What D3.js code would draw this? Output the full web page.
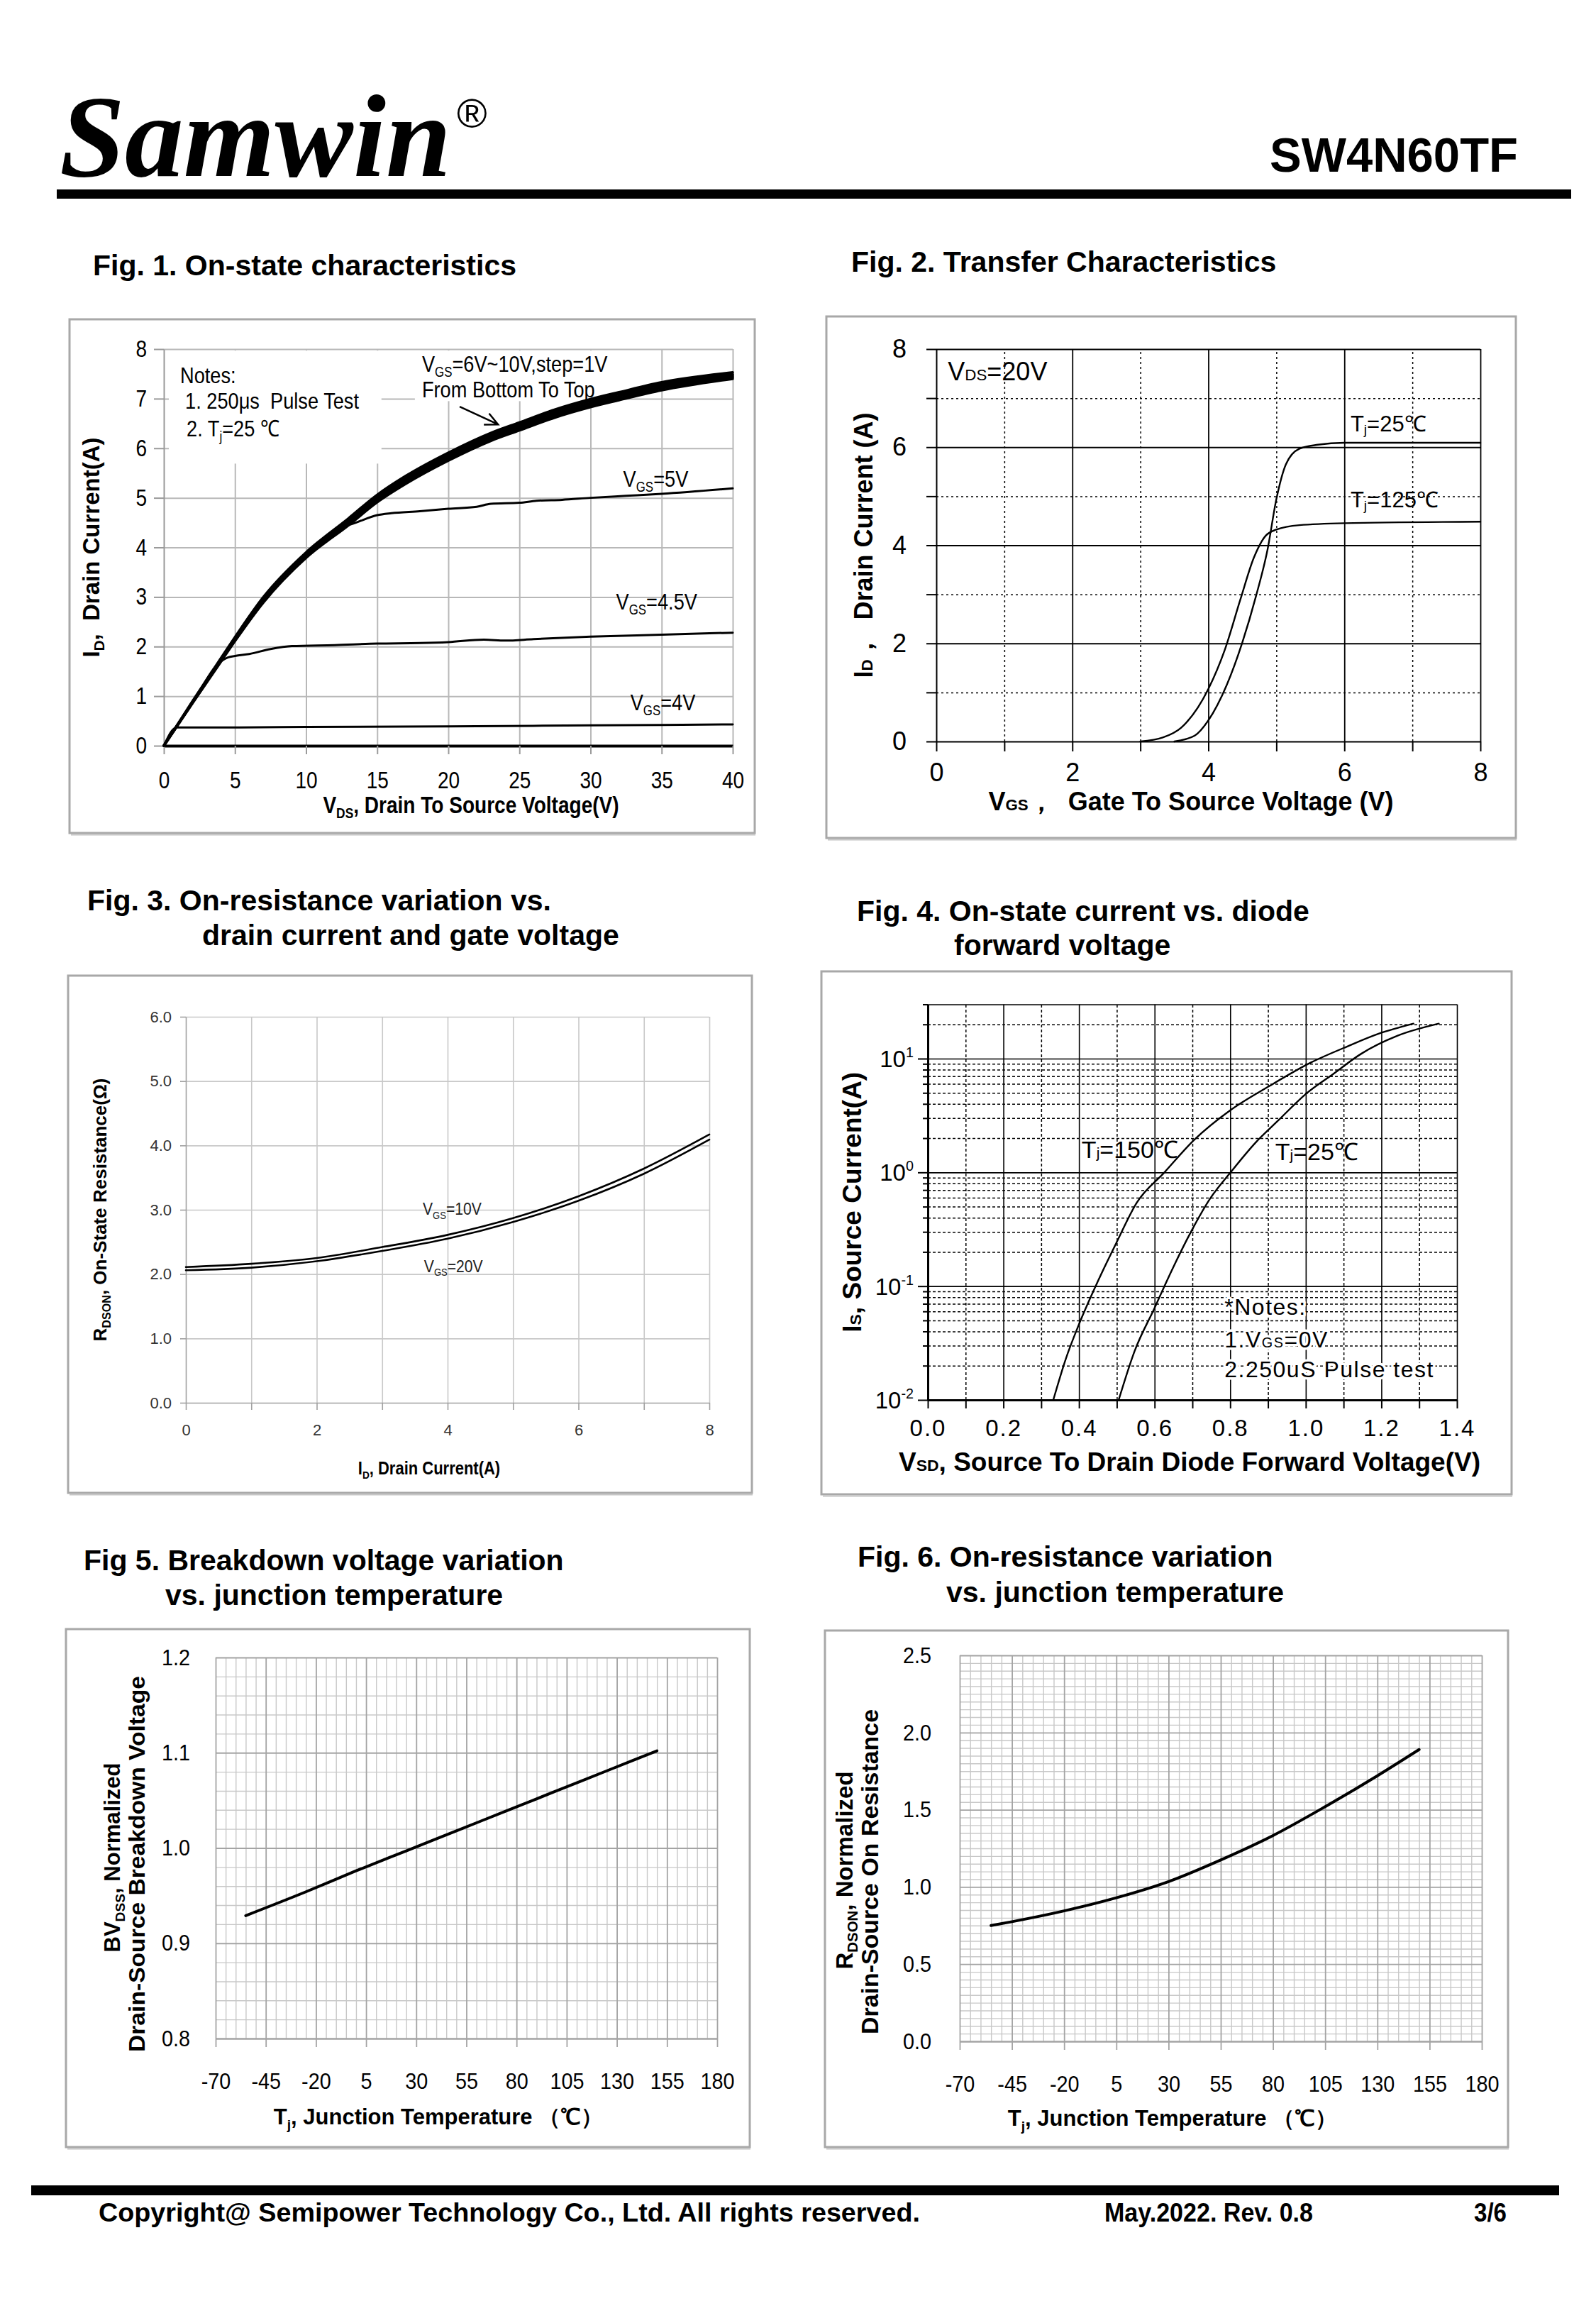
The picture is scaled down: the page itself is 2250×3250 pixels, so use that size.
<!DOCTYPE html>
<html>
<head>
<meta charset="utf-8">
<script src="https://cdn.jsdelivr.net/npm/d3@7/dist/d3.min.js"></script>
<style>
  body { margin: 0; background: #fff; }
  svg { display: block; }
  text { white-space: pre; }
</style>
</head>
<body>
<svg id="page"></svg>
<script>
// ---------- Fig 1: on-state characteristics ----------
const fig1VdsBundle = [0, 2, 4, 5, 7, 10, 13, 15, 17, 20, 23, 25, 27.5, 30, 32, 35, 40];
const fig1Id10V = [0, 0.89, 1.76, 2.19, 3.00, 3.90, 4.59, 5.06, 5.44, 5.91, 6.31, 6.52, 6.78, 6.99, 7.13, 7.33, 7.53];
const fig1Id9V  = [0, 0.88, 1.74, 2.17, 2.97, 3.87, 4.55, 5.02, 5.40, 5.87, 6.27, 6.48, 6.74, 6.95, 7.09, 7.29, 7.49];
const fig1Id8V  = [0, 0.87, 1.73, 2.15, 2.95, 3.85, 4.52, 4.99, 5.36, 5.83, 6.23, 6.44, 6.70, 6.91, 7.05, 7.25, 7.46];
const fig1Id7V  = [0, 0.86, 1.71, 2.13, 2.92, 3.82, 4.49, 4.95, 5.32, 5.79, 6.19, 6.40, 6.66, 6.87, 7.01, 7.21, 7.43];
const fig1Id6V  = [0, 0.85, 1.69, 2.11, 2.89, 3.79, 4.45, 4.91, 5.28, 5.75, 6.15, 6.36, 6.62, 6.83, 6.97, 7.17, 7.40];
const fig1Vds5V = [0, 2, 4, 5, 7, 10, 12.5, 13.5, 15, 16, 18, 20, 22, 23, 25, 26.2, 28, 30, 32.5, 35, 40];
const fig1Id5V  = [0, 0.87, 1.72, 2.14, 2.94, 3.84, 4.40, 4.50, 4.65, 4.69, 4.73, 4.78, 4.82, 4.88, 4.90, 4.94, 4.96, 5.00, 5.04, 5.08, 5.19];
const fig1Vds45V = [0, 2, 4, 4.5, 5, 6, 7.5, 9, 12, 15, 18, 20, 22.5, 24, 26, 30, 35, 40];
const fig1Id45V  = [0, 0.86, 1.70, 1.78, 1.81, 1.85, 1.95, 2.01, 2.03, 2.06, 2.07, 2.09, 2.14, 2.12, 2.15, 2.20, 2.24, 2.28];
const fig1Vds4V = [0, 0.9, 2, 5, 10, 20, 30, 40];
const fig1Id4V  = [0, 0.37, 0.37, 0.37, 0.38, 0.39, 0.41, 0.43];

// ---------- Fig 2: transfer characteristics ----------
const fig2Vgs25  = [3.5, 3.8, 4.0, 4.27, 4.5, 4.7, 4.87, 5.0, 5.14, 5.34, 5.61, 6.0, 8.0];
const fig2Id25   = [0, 0.12, 0.43, 1.15, 2.02, 2.96, 3.91, 4.94, 5.65, 5.97, 6.05, 6.09, 6.09];
const fig2Vgs125 = [3.0, 3.33, 3.6, 4.0, 4.24, 4.47, 4.67, 4.84, 5.0, 5.34, 6.0, 8.0];
const fig2Id125  = [0, 0.08, 0.28, 1.07, 1.86, 2.89, 3.75, 4.19, 4.32, 4.41, 4.45, 4.48];

// ---------- Fig 3: on-resistance vs drain current ----------
const fig3Id     = [0, 1, 2, 3, 4, 5, 6, 7, 8];
const fig3Rds10V = [2.11, 2.16, 2.25, 2.42, 2.61, 2.87, 3.21, 3.64, 4.17];
const fig3Rds20V = [2.06, 2.10, 2.20, 2.36, 2.55, 2.81, 3.14, 3.56, 4.09];

// ---------- Fig 4: body diode forward voltage ----------
const fig4Vsd150 = [0.332, 0.365, 0.399, 0.444, 0.499, 0.553, 0.626, 0.704, 0.801, 0.904, 1.013, 1.11, 1.194, 1.285];
const fig4Is150  = [0.01, 0.0229, 0.0454, 0.1, 0.241, 0.543, 1.0, 1.92, 3.53, 5.75, 9.22, 12.8, 16.6, 20.3];
const fig4Vsd25  = [0.505, 0.547, 0.601, 0.626, 0.698, 0.747, 0.801, 0.868, 0.928, 1.0, 1.073, 1.146, 1.243, 1.352];
const fig4Is25   = [0.01, 0.0268, 0.0655, 0.1, 0.308, 0.589, 1.0, 1.84, 2.88, 4.89, 7.35, 11.0, 15.9, 20.3];
const fig4XLabels = [0, 0.2, 0.4, 0.6, 0.8, 1.0, 1.2, 1.4];
const fig4Decades = [0.01, 0.1, 1, 10];
const fig4Exponents = ["-2", "-1", "0", "1"];

// ---------- Fig 5 / Fig 6: vs junction temperature ----------
const tjLabels = [-70, -45, -20, 5, 30, 55, 80, 105, 130, 155, 180];
const fig5Tj   = [-55, -25, 0, 25, 50, 75, 100, 125, 150];
const fig5Bv   = [0.929, 0.954, 0.976, 0.997, 1.018, 1.039, 1.060, 1.081, 1.102];
const fig6Tj   = [-55, -45, -20, 5, 30, 55, 80, 105, 130, 150];
const fig6Rds  = [0.75, 0.775, 0.845, 0.93, 1.035, 1.175, 1.333, 1.52, 1.72, 1.89];

const W = 2250, H = 3250;
const SANS = "'Liberation Sans', Arial, Helvetica, sans-serif";
const SERIF = "'Liberation Serif', 'Times New Roman', serif";

const svg = d3.select("#page").attr("width", W).attr("height", H).attr("viewBox", `0 0 ${W} ${H}`);
svg.append("rect").attr("width", W).attr("height", H).attr("fill", "#fff");

// text with optional sub/superscript parts
function label(g, x, y, parts, o = {}) {
  const size = o.size || 30, sx = o.sx || 1;
  let tr = `translate(${x},${y})`;
  if (o.rotate) tr += ` rotate(${o.rotate})`;
  if (sx !== 1) tr += ` scale(${sx},1)`;
  const t = g.append("text").attr("transform", tr)
    .attr("font-family", o.family || SANS)
    .attr("font-size", size)
    .attr("font-weight", o.bold ? "bold" : "normal")
    .attr("font-style", o.italic ? "italic" : null)
    .attr("text-anchor", o.anchor || "start")
    .attr("fill", o.fill || "#000");
  if (o.ls) t.attr("letter-spacing", o.ls);
  if (o.len) t.attr("textLength", o.len).attr("lengthAdjust", "spacingAndGlyphs");
  if (o.halo) t.attr("stroke", "#fff").attr("stroke-width", o.halo).attr("paint-order", "stroke").attr("stroke-linejoin", "round");
  let shift = 0;
  (Array.isArray(parts) ? parts : [parts]).forEach(p => {
    const s = typeof p === "string" ? { t: p } : p;
    const want = s.sub ? size * (s.drop ?? 0.22) : s.sup ? -size * 0.42 : 0;
    const ts = t.append("tspan").text(s.t);
    if (want - shift) ts.attr("dy", want - shift);
    shift = want;
    if (s.sub || s.sup || s.small) ts.attr("font-size", size * (s.scale || 0.62));
  });
  return t;
}

function frame(x0, y0, x1, y1) {
  svg.append("rect").attr("x", x0).attr("y", y0).attr("width", x1 - x0).attr("height", y1 - y0)
    .attr("fill", "none").attr("stroke", "#a8a8a8").attr("stroke-width", 3);
  svg.append("line").attr("x1", x0 + 2).attr("x2", x1 + 1).attr("y1", y1 + 2.5).attr("y2", y1 + 2.5)
    .attr("stroke", "#c4c4c4").attr("stroke-width", 2);
}

function grid(g, scale, vals, dir, from, len, color, width, dash) {
  const ax = (dir === "v" ? d3.axisBottom(scale) : d3.axisLeft(scale))
    .tickValues(vals).tickSize(-len).tickSizeOuter(0).tickFormat("");
  const gg = g.append("g")
    .attr("transform", dir === "v" ? `translate(0,${from})` : `translate(${from},0)`)
    .call(ax);
  gg.select(".domain").remove();
  gg.selectAll(".tick line").attr("stroke", color).attr("stroke-width", width)
    .attr("stroke-dasharray", dash || null);
  return gg;
}

function axis(g, ax, transform, o) {
  const gg = g.append("g").attr("transform", transform).call(ax);
  gg.attr("font-family", SANS).attr("font-size", o.size || 30);
  gg.select(".domain").attr("stroke", o.domain || o.color).attr("stroke-width", o.domainWidth || o.width);
  if (o.noDomain) gg.select(".domain").remove();
  gg.selectAll(".tick line").attr("stroke", o.color).attr("stroke-width", o.width);
  const sx = o.sx || 1;
  gg.selectAll(".tick text").attr("fill", o.fill || "#000").attr("font-size", o.size || 30)
    .attr("letter-spacing", o.ls || null)
    .each(function () {
      const t = d3.select(this);
      const x = +t.attr("x") || 0;
      if (sx !== 1) t.attr("x", x / sx).attr("transform", `scale(${sx},1)`);
    });
  return gg;
}

function curve(g, xs, ys, xv, yv, width) {
  g.append("path").datum(xv.map((v, i) => [v, yv[i]]))
    .attr("fill", "none").attr("stroke", "#000").attr("stroke-width", width)
    .attr("stroke-linejoin", "round").attr("stroke-linecap", "round")
    .attr("d", d3.line().x(d => xs(d[0])).y(d => ys(d[1])).curve(d3.curveMonotoneX));
}

// ---------- page header / footer ----------
label(svg, 84, 248, "Samwin", { size: 165, bold: true, italic: true, family: SERIF, len: 552 });
label(svg, 644, 180, "\u00AE", { size: 58 });
label(svg, 1790, 242, "SW4N60TF", { size: 68, bold: true, len: 350 });
svg.append("rect").attr("x", 80).attr("y", 267).attr("width", 2135).attr("height", 13).attr("fill", "#000");

svg.append("rect").attr("x", 44).attr("y", 3080).attr("width", 2154).attr("height", 14).attr("fill", "#000");
label(svg, 139, 3131, "Copyright@ Semipower Technology Co., Ltd. All rights reserved.", { size: 37, bold: true, len: 1158 });
label(svg, 1557, 3131, "May.2022. Rev. 0.8", { size: 37, bold: true, len: 294 });
label(svg, 2078, 3131, "3/6", { size: 37, bold: true, len: 46 });

// ---------- Fig 1 ----------
{
  frame(98, 450, 1064, 1174);
  label(svg, 131, 388, "Fig. 1. On-state characteristics", { size: 41, bold: true });
  const g = svg.append("g");
  const x = d3.scaleLinear().domain([0, 40]).range([231, 1033]);
  const y = d3.scaleLinear().domain([0, 8]).range([1051, 492]);
  const [L, R] = x.range(), [B, T] = y.range();
  grid(g, x, d3.range(5, 41, 5), "v", B, B - T, "#b8b8b8", 2);
  grid(g, y, d3.range(1, 9), "h", L, R - L, "#b8b8b8", 2);
  // white note boxes over the grid
  g.append("rect").attr("x", x(0.35)).attr("y", y(7.97)).attr("width", x(15.3) - x(0.35))
    .attr("height", y(5.69) - y(7.97)).attr("fill", "#fff");
  g.append("rect").attr("x", x(17.65)).attr("y", y(7.97)).attr("width", x(31.5) - x(17.65))
    .attr("height", y(6.95) - y(7.97)).attr("fill", "#fff");
  axis(g, d3.axisLeft(y).ticks(8).tickSize(14).tickPadding(10).tickSizeOuter(0),
    `translate(${L},0)`, { size: 33, sx: 0.85, color: "#9a9a9a", width: 2 });
  axis(g, d3.axisBottom(x).tickValues(d3.range(0, 41, 5)).tickSize(12).tickPadding(25).tickSizeOuter(0),
    `translate(0,${B})`, { size: 33, sx: 0.85, color: "#9a9a9a", width: 2, domain: "#000", domainWidth: 4 });

  [fig1Id6V, fig1Id7V, fig1Id8V, fig1Id9V, fig1Id10V].forEach(s => curve(g, x, y, fig1VdsBundle, s, 3.6));
  curve(g, x, y, fig1Vds5V, fig1Id5V, 3);
  curve(g, x, y, fig1Vds45V, fig1Id45V, 3);
  curve(g, x, y, fig1Vds4V, fig1Id4V, 3);

  const nt = { size: 32, sx: 0.85 };
  label(g, x(1.15), y(7.31), "Notes:", nt);
  label(g, x(1.5), y(6.8), "1. 250\u03BCs  Pulse Test", nt);
  label(g, x(1.6), y(6.24), ["2. T", { t: "j", sub: true }, "=25 \u2103"], nt);
  label(g, x(18.15), y(7.54), ["V", { t: "GS", sub: true }, "=6V~10V,step=1V"], nt);
  label(g, x(18.15), y(7.02), "From Bottom To Top", nt);
  label(g, x(32.3), y(5.22), ["V", { t: "GS", sub: true }, "=5V"], nt);
  label(g, x(31.8), y(2.75), ["V", { t: "GS", sub: true }, "=4.5V"], nt);
  label(g, x(32.8), y(0.71), ["V", { t: "GS", sub: true }, "=4V"], nt);

  // arrow pointing at the 6V~10V bundle
  const s = [x(20.8), y(6.84)], e = [x(23.5), y(6.48)];
  const ang = Math.atan2(e[1] - s[1], e[0] - s[0]);
  const head = a => [e[0] - 20 * Math.cos(ang + a), e[1] - 20 * Math.sin(ang + a)];
  g.append("path").attr("fill", "none").attr("stroke", "#000").attr("stroke-width", 2.5)
    .attr("d", d3.line()([s, e]) + "M" + head(0.45) + "L" + e + "L" + head(-0.45));

  label(g, 140, (T + B) / 2, ["I", { t: "D", sub: true }, ",  Drain Current(A)"],
    { size: 33, bold: true, anchor: "middle", rotate: -90 });
  label(g, 664, 1146, ["V", { t: "DS", sub: true }, ", Drain To Source Voltage(V)"],
    { size: 33, bold: true, anchor: "middle", sx: 0.85 });
}

// ---------- Fig 2 ----------
{
  frame(1165, 446, 2137, 1181);
  label(svg, 1200, 383, "Fig. 2. Transfer Characteristics", { size: 41, bold: true });
  const g = svg.append("g");
  const x = d3.scaleLinear().domain([0, 8]).range([1320, 2087]);
  const y = d3.scaleLinear().domain([0, 8]).range([1045, 492]);
  const [L, R] = x.range(), [B, T] = y.range();
  grid(g, x, [1, 3, 5, 7], "v", B, B - T, "#000", 1.5, "3,4");
  grid(g, y, [1, 3, 5, 7], "h", L, R - L, "#000", 1.5, "3,4");
  grid(g, x, [2, 4, 6, 8], "v", B, B - T, "#000", 1.8);
  grid(g, y, [2, 4, 6, 8], "h", L, R - L, "#000", 1.8);
  axis(g, d3.axisLeft(y).ticks(8).tickSize(14).tickPadding(28).tickSizeOuter(0).tickFormat(d => d % 2 ? "" : d),
    `translate(${L},0)`, { size: 36, color: "#000", width: 2 });
  axis(g, d3.axisBottom(x).ticks(8).tickSize(14).tickPadding(16).tickSizeOuter(0).tickFormat(d => d % 2 ? "" : d),
    `translate(0,${B})`, { size: 36, color: "#000", width: 2 });

  curve(g, x, y, fig2Vgs125, fig2Id125, 2.4);
  curve(g, x, y, fig2Vgs25, fig2Id25, 2.4);

  label(g, x(0.17), y(7.36), ["V", { t: "DS", small: true, scale: 0.62 }, "=20V"], { size: 36 });
  label(g, x(6.09), y(6.32), ["T", { t: "j", sub: true, drop: 0.12 }, "=25\u2103"], { size: 31 });
  label(g, x(6.09), y(4.77), ["T", { t: "j", sub: true, drop: 0.12 }, "=125\u2103"], { size: 31 });

  label(g, 1230, (T + B) / 2, ["I", { t: "D", small: true }, "\uFF0C  Drain Current (A)"],
    { size: 36, bold: true, anchor: "middle", rotate: -90 });
  label(g, 1679, 1142, ["V", { t: "GS", small: true }, "\uFF0C  Gate To Source Voltage (V)"],
    { size: 36, bold: true, anchor: "middle" });
}

// ---------- Fig 3 ----------
{
  frame(96, 1375, 1060, 2104);
  label(svg, 123, 1283, "Fig. 3. On-resistance variation vs.", { size: 41, bold: true });
  label(svg, 285, 1332, "drain current and gate voltage", { size: 41, bold: true });
  const g = svg.append("g");
  const x = d3.scaleLinear().domain([0, 8]).range([262, 1000]);
  const y = d3.scaleLinear().domain([0, 6]).range([1977, 1433]);
  const [L, R] = x.range(), [B, T] = y.range();
  grid(g, x, d3.range(1, 9), "v", B, B - T, "#c8c8c8", 1.6);
  grid(g, y, d3.range(1, 7), "h", L, R - L, "#c8c8c8", 1.6);
  axis(g, d3.axisLeft(y).ticks(6).tickSize(8).tickPadding(12).tickSizeOuter(0).tickFormat(d3.format(".1f")),
    `translate(${L},0)`, { size: 22, color: "#a0a0a0", width: 1.6, fill: "#333" });
  axis(g, d3.axisBottom(x).ticks(8).tickSize(10).tickPadding(20).tickSizeOuter(0).tickFormat(d => d % 2 ? "" : d),
    `translate(0,${B})`, { size: 22, color: "#a0a0a0", width: 1.6, fill: "#333" });

  curve(g, x, y, fig3Id, fig3Rds10V, 2.6);
  curve(g, x, y, fig3Id, fig3Rds20V, 2.6);

  label(g, x(3.62), y(2.92), ["V", { t: "GS", sub: true }, "=10V"], { size: 24, sx: 0.88, fill: "#222" });
  label(g, x(3.64), y(2.03), ["V", { t: "GS", sub: true }, "=20V"], { size: 24, sx: 0.88, fill: "#222" });

  label(g, 150, (T + B) / 2, ["R", { t: "DSON", sub: true }, ", On-State Resistance(\u03A9)"],
    { size: 26, bold: true, anchor: "middle", rotate: -90 });
  label(g, 605, 2078, ["I", { t: "D", sub: true }, ", Drain Current(A)"],
    { size: 25, bold: true, anchor: "middle", sx: 0.88 });
}

// ---------- Fig 4 ----------
{
  frame(1158, 1369, 2131, 2106);
  label(svg, 1208, 1298, "Fig. 4. On-state current vs. diode", { size: 41, bold: true });
  label(svg, 1345, 1346, "forward voltage", { size: 41, bold: true });
  const g = svg.append("g");
  const x = d3.scaleLinear().domain([0, 1.4]).range([1308, 2054]);
  const y = d3.scaleLog().domain([0.01, 30]).range([1973, 1415.5]);
  const [L, R] = x.range(), [B, T] = y.range();
  const minors = [];
  [0.01, 0.1, 1, 10].forEach(d => [2, 3, 4, 5, 6, 7, 8, 9].forEach(k => { if (k * d <= 30) minors.push(k * d); }));
  const xOdd = [0.1, 0.3, 0.5, 0.7, 0.9, 1.1, 1.3];
  grid(g, x, xOdd, "v", B, B - T, "#000", 1.5, "4,3");
  grid(g, y, minors.filter(v => v < 30), "h", L, R - L, "#000", 1.5, "4,3");
  grid(g, x, [0.2, 0.4, 0.6, 0.8, 1.0, 1.2, 1.4], "v", B, B - T, "#000", 1.6);
  grid(g, y, [0.1, 1, 10, 30], "h", L, R - L, "#000", 1.6);
  axis(g, d3.axisLeft(y).tickValues(minors).tickSize(7).tickSizeOuter(0).tickFormat(""),
    `translate(${L},0)`, { color: "#000", width: 2, domainWidth: 3 });
  axis(g, d3.axisLeft(y).tickValues(fig4Decades).tickSize(14).tickSizeOuter(0).tickFormat(""),
    `translate(${L},0)`, { color: "#000", width: 2, domainWidth: 3 });
  axis(g, d3.axisBottom(x).tickValues(d3.range(0, 1.45, 0.1)).tickSize(12).tickSizeOuter(0).tickFormat(""),
    `translate(0,${B})`, { color: "#000", width: 2, domainWidth: 3 });
  axis(g, d3.axisBottom(x).tickValues(fig4XLabels).tickSize(0).tickPadding(28).tickSizeOuter(0).tickFormat(d3.format(".1f")),
    `translate(0,${B})`, { size: 33, color: "#000", width: 0, noDomain: true, ls: 2 });
  fig4Decades.forEach((v, i) =>
    label(g, L - 20, y(v) + 12, ["10", { t: fig4Exponents[i], sup: true, scale: 0.6 }], { size: 33, anchor: "end" }));

  curve(g, x, y, fig4Vsd150, fig4Is150, 2.4);
  curve(g, x, y, fig4Vsd25, fig4Is25, 2.4);

  label(g, x(0.407), y(1.33), ["T", { t: "j", small: true }, "=150\u2103"], { size: 34 });
  label(g, x(0.919), y(1.28), ["T", { t: "j", small: true }, "=25\u2103"], { size: 34 });
  const nt = { size: 32, ls: 1.5, halo: 7 };
  label(g, x(0.785), y(0.056), "*Notes:", nt);
  label(g, x(0.785), y(0.0288), ["1.V", { t: "GS", small: true }, "=0V"], nt);
  label(g, x(0.785), y(0.0158), "2.250uS Pulse test", nt);

  label(g, 1214, (T + B) / 2, ["I", { t: "S", small: true }, ", Source Current(A)"],
    { size: 37, bold: true, anchor: "middle", rotate: -90 });
  label(g, (L + R) / 2 - 4, 2073, ["V", { t: "SD", small: true }, ", Source To Drain Diode Forward Voltage(V)"],
    { size: 37, bold: true, anchor: "middle" });
}

// ---------- Fig 5 / Fig 6 (temperature charts) ----------
function tempChart(o) {
  frame(o.frame[0], o.frame[1], o.frame[2], o.frame[3]);
  o.title.forEach(t => label(svg, t[0], t[1], t[2], { size: 41, bold: true }));
  const g = svg.append("g");
  const x = d3.scaleLinear().domain([-70, 180]).range(o.xr);
  const y = d3.scaleLinear().domain(o.yd).range(o.yr);
  const [L, R] = x.range(), [B, T] = y.range();
  const minorX = d3.range(-65, 180, 5).filter(v => (v + 70) % 25 !== 0);
  const minorY = d3.range(o.yd[0], o.yd[1] + 1e-9, o.yMinor).filter(v => Math.abs(v / o.yMajor - Math.round(v / o.yMajor)) > 1e-6);
  grid(g, x, minorX, "v", B, B - T, "#c8c8c8", 1.4);
  grid(g, y, minorY, "h", L, R - L, "#c8c8c8", 1.4);
  grid(g, x, tjLabels, "v", B, B - T, "#a4a4a4", 1.8);
  grid(g, y, d3.range(o.yd[0], o.yd[1] + 1e-9, o.yMajor), "h", L, R - L, "#a4a4a4", 1.8);
  axis(g, d3.axisLeft(y).tickValues(d3.range(o.yd[0], o.yd[1] + 1e-9, o.yMajor)).tickSize(0).tickPadding(o.padY)
    .tickSizeOuter(0).tickFormat(d3.format(".1f")),
    `translate(${L},0)`, { size: 32, sx: 0.9, color: "#a4a4a4", width: 1.6, noDomain: true });
  axis(g, d3.axisBottom(x).tickValues(tjLabels).tickSize(12).tickPadding(36).tickSizeOuter(0).tickFormat(d => String(d)),
    `translate(0,${B})`, { size: 32, sx: 0.9, color: "#a4a4a4", width: 1.8 });
  curve(g, x, y, o.xs, o.ys, 4);
  o.ytitle.forEach(t => label(g, t[0], t[1], t[2], { size: o.tSize, bold: true, anchor: "middle", rotate: -90, len: t[3] }));
  label(g, o.xtitle[0], o.xtitle[1], ["T", { t: "j", sub: true }, ", Junction Temperature \uFF08\u2103\uFF09"],
    { size: 31, bold: true, anchor: "middle" });
}

tempChart({
  frame: [93, 2296, 1057, 3026],
  title: [[118, 2213, "Fig 5. Breakdown voltage variation"], [233, 2262, "vs. junction temperature"]],
  xr: [304, 1011], yd: [0.8, 1.2], yr: [2873, 2336], yMinor: 0.02, yMajor: 0.1, padY: 36,
  xs: fig5Tj, ys: fig5Bv, tSize: 31,
  ytitle: [[169, 2618, ["BV", { t: "DSS", sub: true }, ", Normalized"]], [204, 2627, "Drain-Source Breakdown Voltage", 530]],
  xtitle: [618, 2994]
});

tempChart({
  frame: [1163, 2298, 2126, 3026],
  title: [[1209, 2208, "Fig. 6. On-resistance variation"], [1334, 2258, "vs. junction temperature"]],
  xr: [1353, 2089], yd: [0, 2.5], yr: [2877, 2333], yMinor: 0.05, yMajor: 0.5, padY: 40,
  xs: fig6Tj, ys: fig6Rds, tSize: 33,
  ytitle: [[1202, 2636, ["R", { t: "DSON", sub: true }, ", Normalized"]], [1238, 2638, "Drain-Source On Resistance", 458]],
  xtitle: [1653, 2996]
});
</script>
</body>
</html>
